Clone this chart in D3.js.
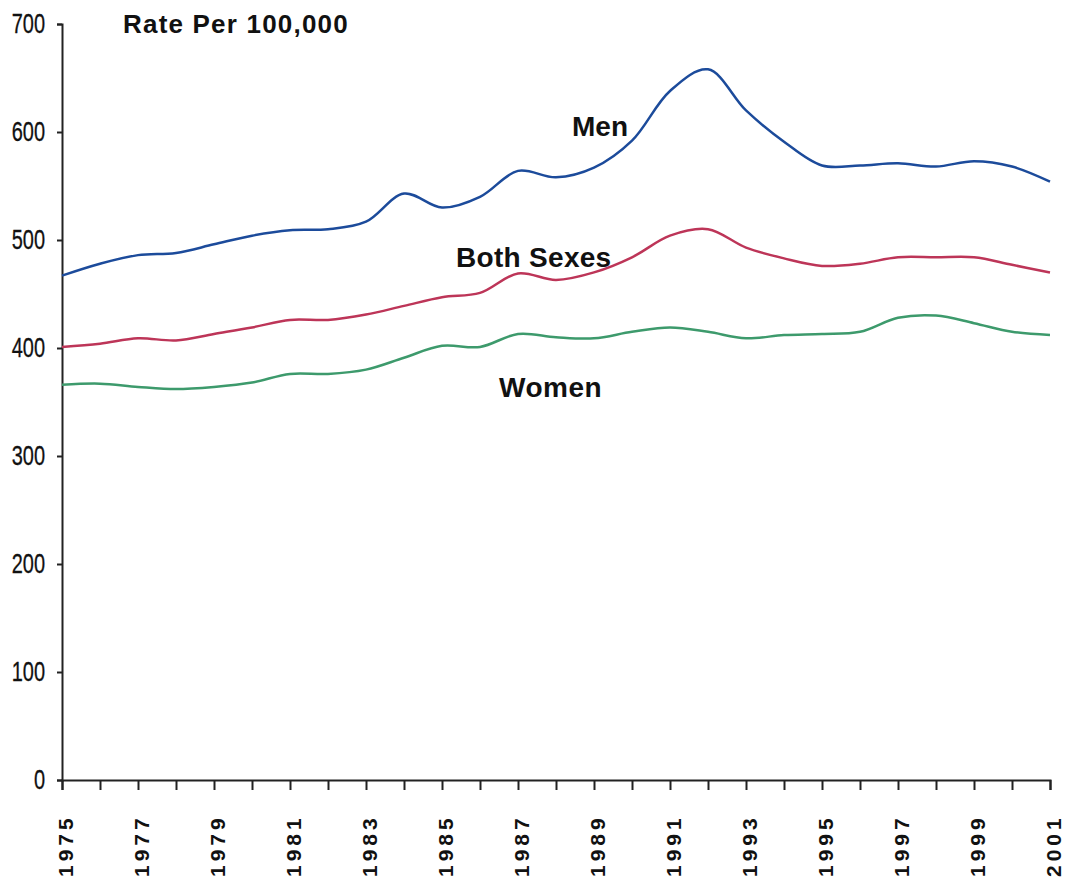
<!DOCTYPE html>
<html>
<head>
<meta charset="utf-8">
<script src="https://cdn.jsdelivr.net/npm/d3@7"></script>
<style>
  body { margin: 0; background: #fff; }
  svg { display: block; }
</style>
</head>
<body>
<svg id="chart"></svg>
<script>
// data
const years = d3.range(1975, 2002);
const men = [467, 478, 486, 488, 496, 504, 509, 510, 517, 543, 530, 540, 564, 558, 567, 592, 638, 658, 620, 591, 569, 569, 571, 568, 573, 568, 554];
const bothSexes = [401, 404, 409, 407, 413, 419, 426, 426, 431, 439, 447, 451, 469, 463, 470, 484, 504, 510, 493, 483, 476, 478, 484, 484, 484, 477, 470];
const women = [366, 367, 364, 362, 364, 368, 376, 376, 380, 391, 402, 401, 413, 410, 409, 415, 419, 415, 409, 412, 413, 415, 428, 430, 423, 415, 412];
const yTicks = [0, 100, 200, 300, 400, 500, 600, 700];
const xLabels = d3.range(1975, 2002, 2);

const width = 1076, height = 886;
const margin = { top: 24, right: 26, bottom: 106, left: 62 };
const innerWidth = width - margin.left - margin.right;
const innerHeight = height - margin.top - margin.bottom;

const svg = d3.select('#chart')
  .attr('width', width)
  .attr('height', height);

const g = svg.append('g')
  .attr('transform', `translate(${margin.left}, ${margin.top})`);

const x = d3.scaleLinear()
  .domain([1975, 2001])
  .range([0, innerWidth]);

const y = d3.scaleLinear()
  .domain([0, 700])
  .range([innerHeight, 0]);

// y axis, narrow digits like the original
const narrow = 0.74;
const yAxis = g.append('g')
  .call(d3.axisLeft(y).tickValues(yTicks).tickSize(5));
yAxis.selectAll('text')
  .attr('x', -17 / narrow)
  .attr('transform', `scale(${narrow}, 1)`)
  .attr('font-family', '"Liberation Sans", Arial, sans-serif')
  .attr('font-size', 27)
  .attr('stroke', '#111')
  .attr('stroke-width', 0.3)
  .attr('fill', '#111');

// x axis: a tick every year, a label every other year
const xAxis = g.append('g')
  .attr('transform', `translate(0, ${innerHeight})`)
  .call(d3.axisBottom(x).tickValues(years).tickSize(10).tickFormat(''));

g.append('g')
  .selectAll('text')
  .data(xLabels)
  .enter()
  .append('text')
  .attr('transform', d => `translate(${x(d) + 11}, ${innerHeight + 97}) rotate(-90)`)
  .attr('font-family', '"Liberation Sans", Arial, sans-serif')
  .attr('font-weight', 'bold')
  .attr('font-size', 21)
  .attr('letter-spacing', 4)
  .attr('fill', '#111')
  .text(d => d);

g.selectAll('.domain, .tick line')
  .attr('stroke', '#222')
  .attr('stroke-width', 2);

// lines
const line = d3.line()
  .x((d, i) => x(years[i]))
  .y(d => y(d))
  .curve(d3.curveCatmullRom.alpha(0.5));

const series = [
  { values: men, color: '#1c4b9b' },
  { values: bothSexes, color: '#bd3558' },
  { values: women, color: '#3d9a6c' }
];

g.selectAll('.series')
  .data(series)
  .enter()
  .append('path')
  .attr('d', d => line(d.values))
  .attr('fill', 'none')
  .attr('stroke', d => d.color)
  .attr('stroke-width', 2.5);

// labels
const labels = [
  { text: 'Rate Per 100,000', x: 123, y: 33, size: 26, spacing: 1.2 },
  { text: 'Men', x: 572, y: 136, size: 28, spacing: 0 },
  { text: 'Both Sexes', x: 456, y: 267, size: 28, spacing: 0.3 },
  { text: 'Women', x: 499, y: 397, size: 28, spacing: 0.5 }
];

svg.selectAll('.label')
  .data(labels)
  .enter()
  .append('text')
  .attr('x', d => d.x)
  .attr('y', d => d.y)
  .attr('font-family', '"Liberation Sans", Arial, sans-serif')
  .attr('font-weight', 'bold')
  .attr('font-size', d => d.size)
  .attr('letter-spacing', d => d.spacing)
  .attr('fill', '#111')
  .text(d => d.text);
</script>
</body>
</html>
